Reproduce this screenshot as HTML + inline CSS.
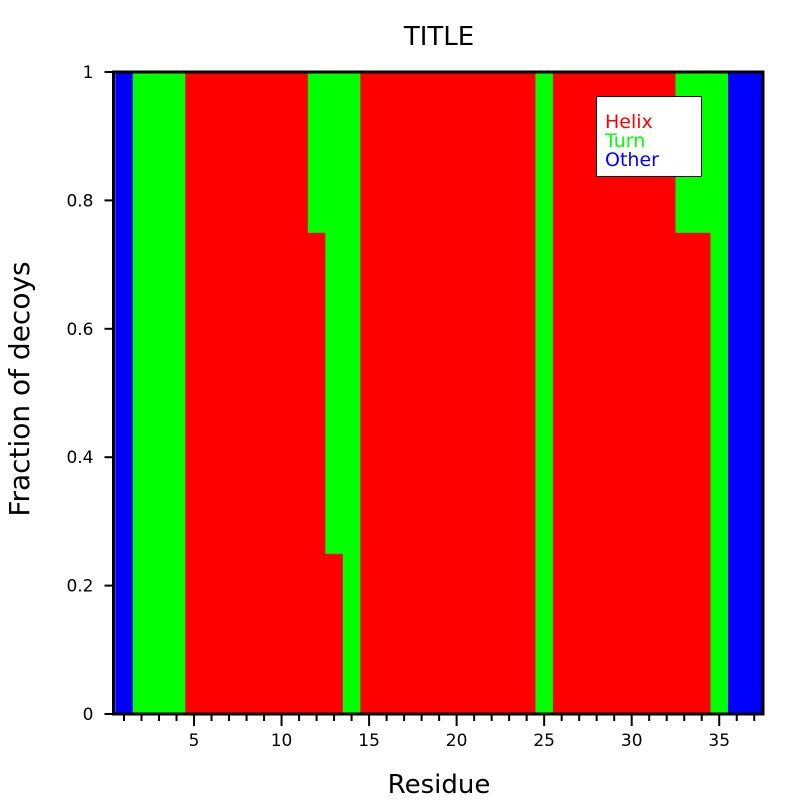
<!DOCTYPE html>
<html><head><meta charset="utf-8"><style>
body{margin:0;background:#fff}
svg{display:block;font-family:"DejaVu Sans","Liberation Sans",sans-serif}
</style></head><body>
<svg id="chart" width="800" height="800">
<text x="439" y="45" font-size="26" text-anchor="middle">TITLE</text>
<g id="bars"></g><g id="axes"></g>
<text x="439" y="793" font-size="26" text-anchor="middle">Residue</text>
<text transform="translate(29,389) rotate(-90)" font-size="28" text-anchor="middle">Fraction of decoys</text>
<g>
<rect x="596.5" y="96.5" width="105" height="80" fill="#fff" stroke="#000" stroke-width="1"/>
<text x="605" y="128" font-size="19" fill="#ff0000">Helix</text>
<text x="605" y="147" font-size="19" fill="#00ff00">Turn</text>
<text x="605" y="166" font-size="19" fill="#0000ff">Other</text>
</g>
</svg>
<script>
const residues=[1,2,3,4,5,6,7,8,9,10,11,12,13,14,15,16,17,18,19,20,21,22,23,24,25,26,27,28,29,30,31,32,33,34,35,36,37];
const helix=[0,0,0,0,1,1,1,1,1,1,1,0.75,0.25,0,1,1,1,1,1,1,1,1,1,1,0,1,1,1,1,1,1,1,0.75,0.75,0,0,0];
const turn =[0,1,1,1,0,0,0,0,0,0,0,0.25,0.75,1,0,0,0,0,0,0,0,0,0,0,1,0,0,0,0,0,0,0,0.25,0.25,1,0,0];
const other=[1,0,0,0,0,0,0,0,0,0,0,0,0,0,0,0,0,0,0,0,0,0,0,0,0,0,0,0,0,0,0,0,0,0,0,1,1];
const yTicks=[0,0.2,0.4,0.6,0.8,1];
const yTickLabels=["0","0.2","0.4","0.6","0.8","1"];
const xMajor=[5,10,15,20,25,30,35];
const NS="http://www.w3.org/2000/svg";
const L=113.5,R=763,T=72,B=714,X0=0.4,X1=37.5;
const x=v=>L+(v-X0)*(R-L)/(X1-X0);
const y=v=>B-v*(B-T);
const bars=document.getElementById('bars'),axes=document.getElementById('axes');
function mk(tag,attrs,parent){const e=document.createElementNS(NS,tag);for(const k in attrs)e.setAttribute(k,attrs[k]);parent.appendChild(e);return e;}
const series=[["helix",helix,"#ff0000"],["turn",turn,"#00ff00"],["other",other,"#0000ff"]];
residues.forEach((r,i)=>{let base=0;series.forEach(([nm,arr,col])=>{const v=arr[i];if(v>0){
const e=mk('rect',{x:x(r-0.5),y:y(base+v),width:x(r+0.5)-x(r-0.5)+0.3,height:y(base)-y(base+v)+0.3,fill:col},bars);

}base+=v;});});
const fr=mk('rect',{x:L,y:T,width:R-L,height:B-T,fill:'none',stroke:'#000','stroke-width':3},axes);


yTicks.forEach((v,i)=>{mk('line',{x1:L-9,x2:L,y1:y(v),y2:y(v),stroke:'#000','stroke-width':2},axes);
const t=mk('text',{x:L-20,y:y(v)+6,'font-size':17,'text-anchor':'end'},axes);t.textContent=yTickLabels[i];

});
residues.forEach(r=>{const maj=xMajor.includes(r);mk('line',{x1:x(r),x2:x(r),y1:B,y2:B+(maj?12:7),stroke:'#000','stroke-width':2},axes);
if(maj){const t=mk('text',{x:x(r),y:B+32,'font-size':17,'text-anchor':'middle'},axes);t.textContent=r;

}});
</script>
</body></html>
